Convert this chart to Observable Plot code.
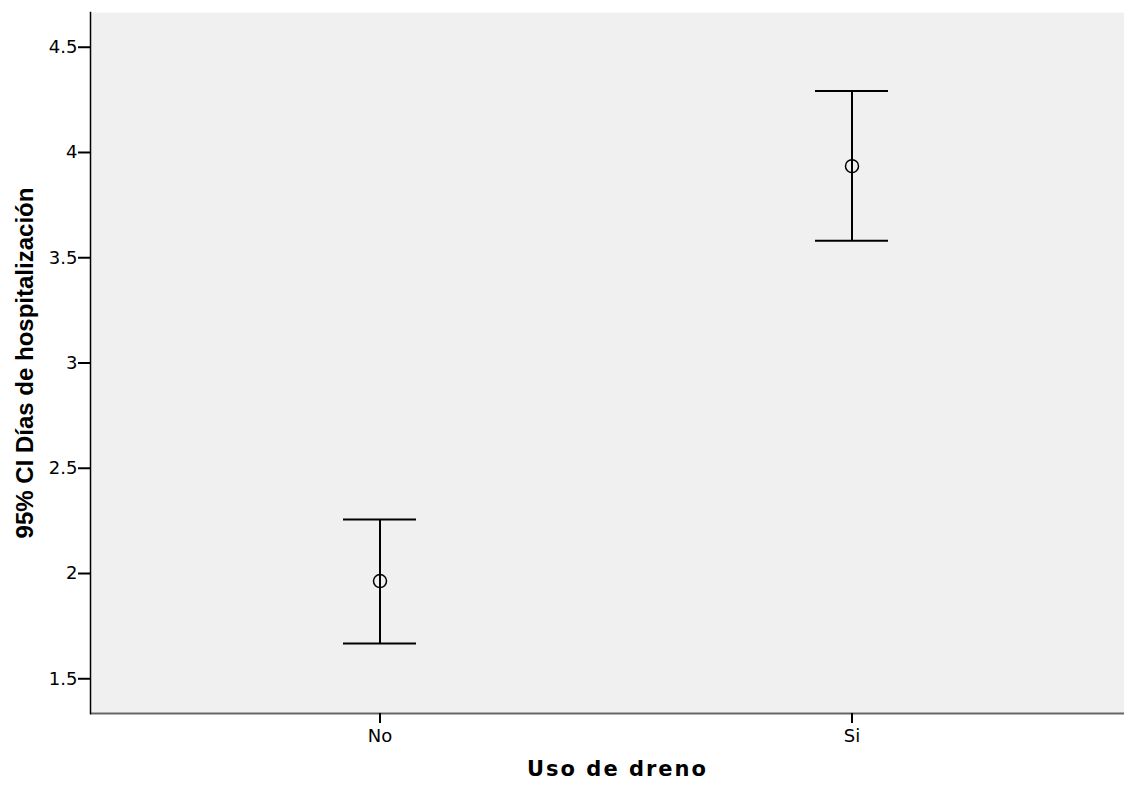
<!DOCTYPE html>
<html><head><meta charset="utf-8">
<script src="https://cdn.jsdelivr.net/npm/d3@7"></script>
<script src="https://cdn.jsdelivr.net/npm/@observablehq/plot@0.6"></script>
<style>body{margin:0;background:#fff}</style>
</head><body><div id="chart"></div>
<script>
const groups = ["No", "Si"];
const means = [1.964, 3.935];
const lower = [1.668, 3.581];
const upper = [2.257, 4.292];
const yTicks = [1.5, 2, 2.5, 3, 3.5, 4, 4.5];
const yDomain = [1.335, 4.665];
const xTitle = "Uso de dreno";
const yTitle = "95% CI Días de hospitalización";

const data = groups.map((g, i) => ({group: g, mean: means[i], lower: lower[i], upper: upper[i]}));

const chart = Plot.plot({
  width: 1124, height: 786,
  marginLeft: 90, marginRight: 0, marginTop: 12, marginBottom: 73,
  style: {fontFamily: "DejaVu Sans", fontSize: "17px", color: "black", background: "white"},
  x: {type: "band", domain: groups, range: [90, 1141], paddingInner: 0.846, paddingOuter: 0.535, align: 0.5},
  y: {domain: yDomain},
  marks: [
    Plot.frame({fill: "#f0f0f0", stroke: null}),
    Plot.ruleY([yDomain[0]], {stroke: "#666", strokeWidth: 2}),
    Plot.frame({anchor: "left", stroke: "black", strokeWidth: 1.5}),
    Plot.axisY({ticks: yTicks, tickFormat: d3.format("~g"), tickSize: 12, tickPadding: 1, strokeWidth: 2, label: null}),
    Plot.axisX({tickSize: 10, tickPadding: 6, strokeWidth: 2, label: null}),
    Plot.ruleX(data, {x: "group", y1: "lower", y2: "upper", stroke: "black", strokeWidth: 2}),
    Plot.tickY(data, {x: "group", y: "lower", stroke: "black", strokeWidth: 2}),
    Plot.tickY(data, {x: "group", y: "upper", stroke: "black", strokeWidth: 2}),
    Plot.dot(data, {x: "group", y: "mean", r: 6.5, stroke: "black", strokeWidth: 1.5, fill: "none"}),
    Plot.text([xTitle], {frameAnchor: "bottom", dy: 62, dx: 10, fontWeight: "bold", fontSize: 21, fill: "black"}),
    Plot.text([yTitle], {frameAnchor: "left", textAnchor: "middle", rotate: -90, dx: -65, fontWeight: "bold", fontSize: 24, fontFamily: "Liberation Sans", fill: "black"})
  ]
});
d3.select(chart).selectAll("text").filter(function() { return this.textContent === xTitle; }).attr("letter-spacing", "2px");
d3.select(chart).selectAll("g[aria-label='y-axis tick label'], g[aria-label='x-axis tick label']").attr("font-size", 18).attr("font-family", "DejaVu Sans");
document.getElementById("chart").append(chart);
</script>
</body></html>
